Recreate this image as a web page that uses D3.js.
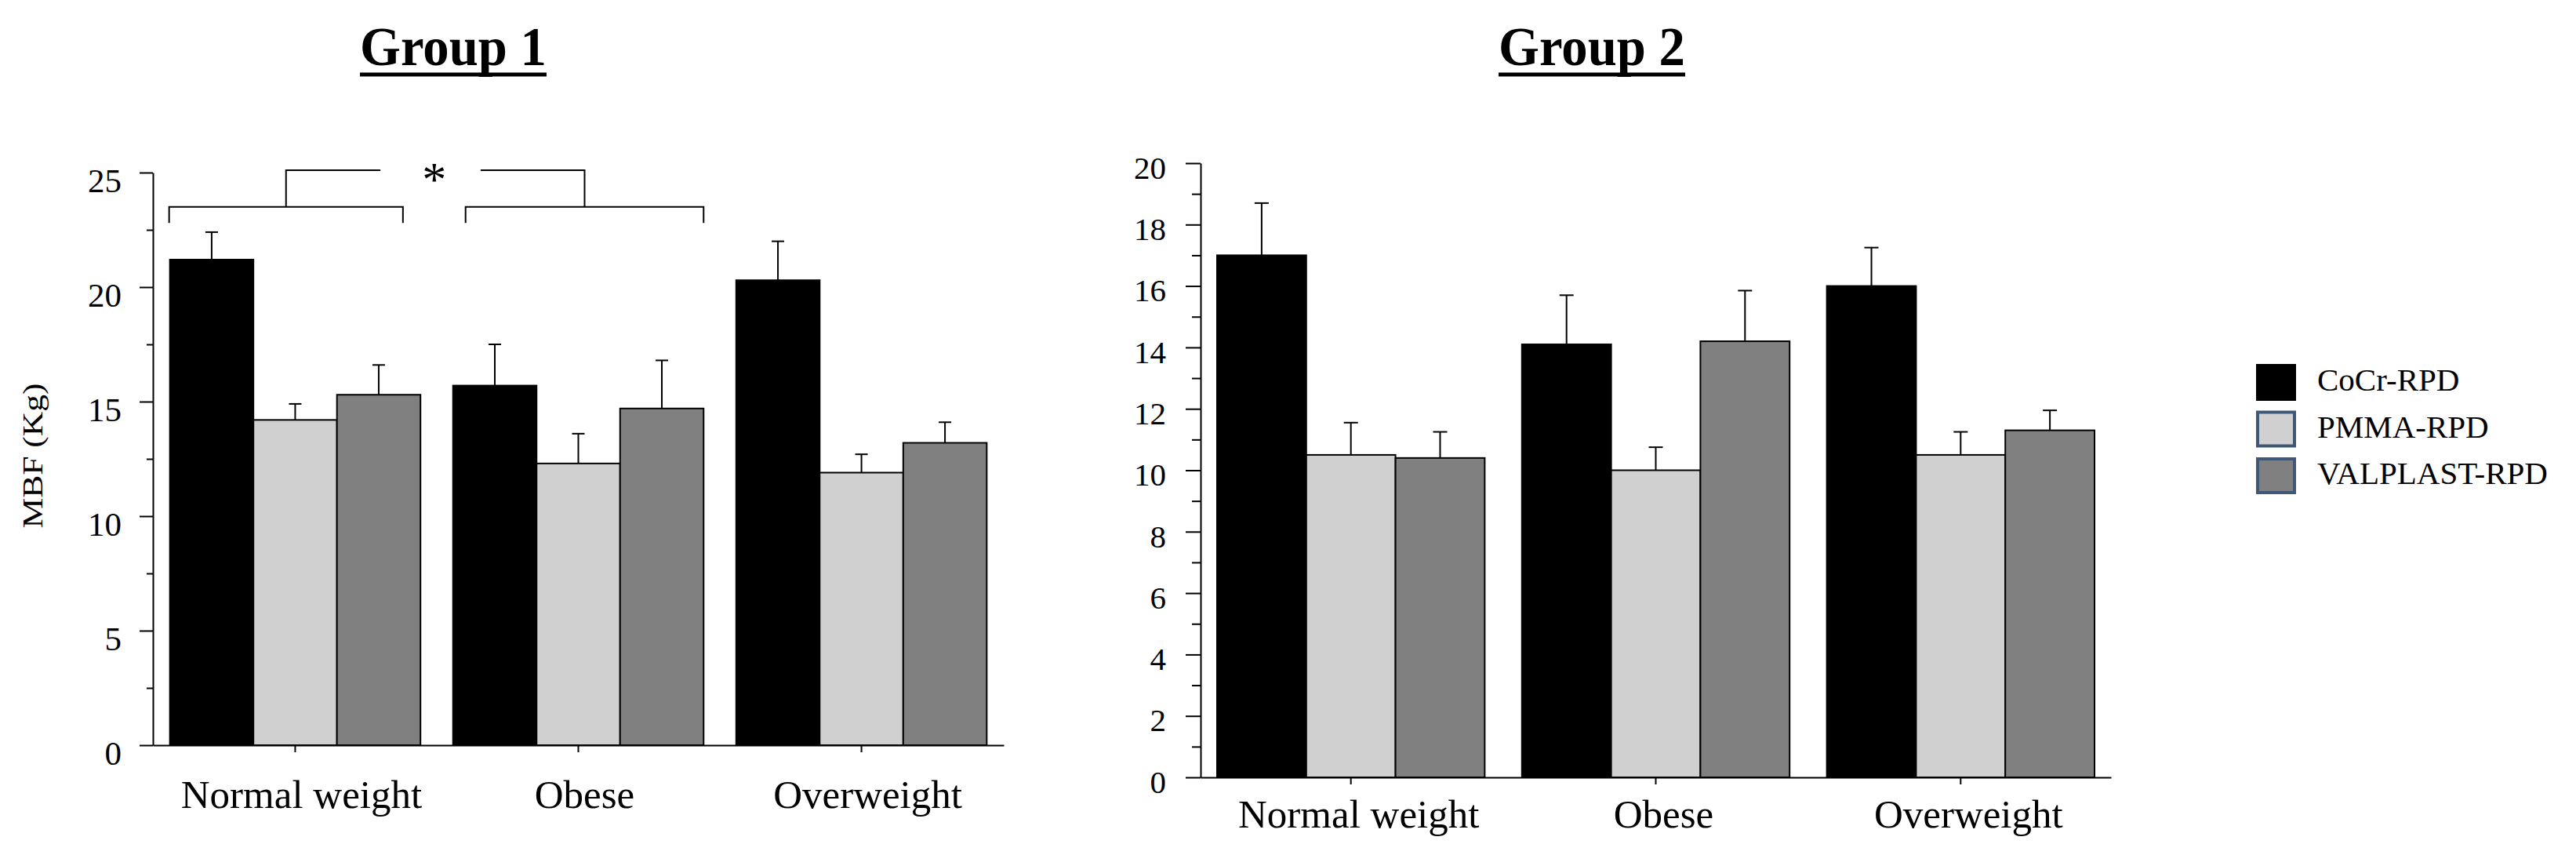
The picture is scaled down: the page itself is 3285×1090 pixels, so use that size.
<!DOCTYPE html>
<html>
<head>
<meta charset="utf-8">
<title>MBF by group</title>
<script src="https://d3js.org/d3.v7.min.js"></script>
<style>
body { margin:0; background:#fff; }
text { font-family: "Liberation Serif", "Times New Roman", serif; fill:#000; }
</style>
</head>
<body>
<script>
var categories = ["Normal weight", "Obese", "Overweight"];
var series = ["CoCr-RPD", "PMMA-RPD", "VALPLAST-RPD"];
var colors = ["#000000", "#d0d0d0", "#808080"];

// Group 1 means and error (upper bar)
var g1CoCr = [21.2, 15.7, 20.3];
var g1PMMA = [14.2, 12.3, 11.9];
var g1Valplast = [15.3, 14.7, 13.2];
var g1CoCrErr = [1.2, 1.8, 1.7];
var g1PMMAErr = [0.7, 1.3, 0.8];
var g1ValplastErr = [1.3, 2.1, 0.9];
var g1Ticks = [0, 5, 10, 15, 20, 25];
var g1Minor = [2.5, 7.5, 12.5, 17.5, 22.5];

// Group 2
var g2CoCr = [17.0, 14.1, 16.0];
var g2PMMA = [10.5, 10.0, 10.5];
var g2Valplast = [10.4, 14.2, 11.3];
var g2CoCrErr = [1.7, 1.6, 1.25];
var g2PMMAErr = [1.05, 0.75, 0.75];
var g2ValplastErr = [0.85, 1.65, 0.65];
var g2Ticks = [0, 2, 4, 6, 8, 10, 12, 14, 16, 18, 20];
var g2Minor = [1, 3, 5, 7, 9, 11, 13, 15, 17, 19];

var serif = '"Liberation Serif", "Times New Roman", serif';
var width = 3285, height = 1090;
var svg = d3.select('body').append('svg').attr('width', width).attr('height', height);
svg.append('rect').attr('width', width).attr('height', height).attr('fill', '#fff');

function panel(o) {
	var x = d3.scaleBand().domain(categories).range([o.left, o.right]).paddingInner(o.pi).paddingOuter(o.po);
	var xs = d3.scaleBand().domain(series).range([0, x.bandwidth()]);
	var y = d3.scaleLinear().domain([0, o.max]).range([o.bottom, o.top]);
	var g = svg.append('g');

	// bars
	var rows = [];
	o.values.forEach(function(vals, si) {
		vals.forEach(function(v, ci) {
			rows.push({cat: categories[ci], s: series[si], si: si, v: v, e: o.errs[si][ci]});
		});
	});
	g.selectAll('rect.bar').data(rows).enter().append('rect').attr('class', 'bar')
		.attr('x', function(d){ return x(d.cat) + xs(d.s); })
		.attr('y', function(d){ return y(d.v); })
		.attr('width', xs.bandwidth())
		.attr('height', function(d){ return y(0) - y(d.v); })
		.attr('fill', function(d){ return colors[d.si]; })
		.attr('stroke', '#000').attr('stroke-width', 2);

	// error bars
	var cx = function(d){ return x(d.cat) + xs(d.s) + xs.bandwidth()/2; };
	var eb = g.selectAll('g.err').data(rows).enter().append('g').attr('class', 'err')
		.attr('stroke', '#000').attr('stroke-width', 2);
	eb.append('line').attr('x1', cx).attr('x2', cx)
		.attr('y1', function(d){ return y(d.v); })
		.attr('y2', function(d){ return y(d.v + d.e); });
	eb.append('line')
		.attr('x1', function(d){ return cx(d) - o.cap; })
		.attr('x2', function(d){ return cx(d) + o.cap; })
		.attr('y1', function(d){ return y(d.v + d.e); })
		.attr('y2', function(d){ return y(d.v + d.e); });

	// y axis
	var ya = g.append('g').attr('transform', 'translate(' + o.left + ',0)')
		.call(d3.axisLeft(y).tickValues(o.ticks).tickSize(o.tick).tickSizeOuter(0).tickPadding(o.tickPad));
	ya.attr('font-family', serif);
	ya.selectAll('text').style('font-family', serif).style('font-size', o.tickFont + 'px').attr('dy', o.tickDy);
	ya.append('g').call(d3.axisLeft(y).tickValues(o.minor).tickSize(o.minorTick).tickFormat(''))
		.select('.domain').remove();
	ya.selectAll('line,path').attr('stroke-width', 2);

	// x axis
	var xa = g.append('g').attr('transform', 'translate(0,' + o.bottom + ')')
		.call(d3.axisBottom(x).tickSize(9).tickSizeOuter(0));
	xa.attr('font-family', serif);
	xa.selectAll('text').style('font-family', serif).style('font-size', '51px')
		.attr('y', o.labelY).attr('dy', 0).attr('dx', o.labelDx);
	xa.selectAll('line,path').attr('stroke-width', 2);

	// title with underline
	svg.append('text').attr('x', o.titleX).attr('y', 83).attr('text-anchor', 'middle')
		.style('font-size', '70px').style('font-weight', 'bold')
		.attr('textLength', 238).attr('lengthAdjust', 'spacingAndGlyphs')
		.text(o.title);
	svg.append('line').attr('x1', o.titleX - 119).attr('x2', o.titleX + 119)
		.attr('y1', 95).attr('y2', 95).attr('stroke', '#000').attr('stroke-width', 5);

	return {x: x, y: y, g: g};
}

var p1 = panel({
	left: 195, right: 1280, top: 220, bottom: 950, max: 25, pi: 0.115, po: 0.06,
	values: [g1CoCr, g1PMMA, g1Valplast], errs: [g1CoCrErr, g1PMMAErr, g1ValplastErr],
	ticks: g1Ticks, minor: g1Minor, tick: 17, minorTick: 8, tickPad: 23, tickFont: 43, tickDy: '0.58em',
	labelY: 80, labelDx: 8, cap: 8, title: 'Group 1', titleX: 578
});

var p2 = panel({
	left: 1531, right: 2692, top: 208, bottom: 991, max: 20, pi: 0.122, po: 0.054,
	values: [g2CoCr, g2PMMA, g2Valplast], errs: [g2CoCrErr, g2PMMAErr, g2ValplastErr],
	ticks: g2Ticks, minor: g2Minor, tick: 19, minorTick: 11, tickPad: 25, tickFont: 41, tickDy: '0.47em',
	labelY: 64, labelDx: 10, cap: 9, title: 'Group 2', titleX: 2030
});

// y label for group 1
svg.append('text').attr('transform', 'translate(54,581) rotate(-90)')
	.attr('text-anchor', 'middle').style('font-size', '36px')
	.attr('textLength', 185).attr('lengthAdjust', 'spacingAndGlyphs').text('MBF (Kg)');

// significance brackets, group 1 (Normal weight vs Obese)
var bx = p1.x, by = p1.y, bw = bx.bandwidth();
var brackets = [
	{x1: bx('Normal weight') - 1, x2: bx('Normal weight') + bw * 0.93, inner: bx('Normal weight') + bw * 0.84},
	{x1: bx('Obese') + bw * 0.05, x2: bx('Obese') + bw, inner: bx('Obese') + bw * 0.11}
];
var bg = svg.append('g').attr('stroke', '#000').attr('stroke-width', 2).attr('fill', 'none');
brackets.forEach(function(b) {
	var mid = (b.x1 + b.x2) / 2;
	bg.append('path').attr('d', 'M' + b.x1 + ',' + by(22.8) + 'V' + by(23.5) + 'H' + b.x2 + 'V' + by(22.8));
	bg.append('path').attr('d', 'M' + mid + ',' + by(23.5) + 'V' + by(25.1) + 'H' + b.inner);
});
svg.append('text').attr('x', (brackets[0].x2 + brackets[1].x1) / 2).attr('y', by(24.9) + 26)
	.attr('text-anchor', 'middle').style('font-size', '62px').text('*');

// legend
var lg = svg.append('g');
series.forEach(function(s, i) {
	var yy = 464 + i * 59.5;
	lg.append('rect').attr('x', 2879).attr('y', yy + 2).attr('width', 47).attr('height', 43)
		.attr('fill', colors[i]).attr('stroke', i == 0 ? '#000' : '#3f5878').attr('stroke-width', 4);
	lg.append('text').attr('x', 2955).attr('y', yy + 34).style('font-size', '41px').text(s);
});
</script>
</body>
</html>
